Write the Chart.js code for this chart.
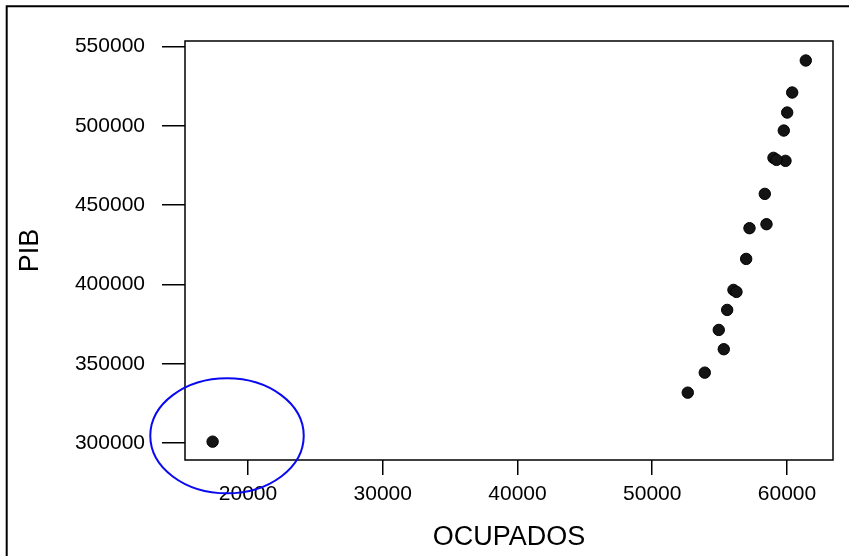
<!DOCTYPE html>
<html>
<head>
<meta charset="utf-8">
<script src="https://cdn.jsdelivr.net/npm/chart.js@4/dist/chart.umd.min.js"></script>
<style>
  html, body { margin: 0; padding: 0; background: #fff; }
  #wrap { position: relative; width: 849px; height: 556px; }
</style>
</head>
<body>
<div id="wrap"><canvas id="c" width="849" height="556"></canvas></div>
<script>
// ---- data ----
const ocupados = [17372, 52636, 53898, 55309, 54937, 55561, 56028, 56250, 56972, 57217,
                  58479, 58353, 59889, 58998, 59221, 59763, 60015, 60387, 61396];
const pib      = [300952, 331847, 344457, 359211, 371379, 383990, 396600, 395340, 416145, 435502,
                  438023, 457129, 477933, 479825, 478564, 497038, 508387, 520997, 541173];
const xTicks = [20000, 30000, 40000, 50000, 60000];
const yTicks = [300000, 350000, 400000, 450000, 500000, 550000];
const xRange = [15323, 63415];
const yRange = [289400, 553470];
const xTitle = 'OCUPADOS';
const yTitle = 'PIB';
// outlier highlight ellipse (data units)
const ellipseCenter = [18441, 304670];
const ellipseRadius = [5694, 36254];

const FONT = "'Liberation Sans', Arial, sans-serif";

const framePlugin = {
  id: 'frame',
  beforeDraw(chart) {
    const ctx = chart.ctx;
    ctx.save();
    ctx.strokeStyle = '#000';
    ctx.lineWidth = 2;
    ctx.beginPath();
    ctx.moveTo(6.7, 556);
    ctx.lineTo(6.7, 6.2);
    ctx.lineTo(849, 6.2);
    ctx.stroke();
    ctx.restore();
  },
  afterDraw(chart) {
    const a = chart.chartArea, ctx = chart.ctx;
    ctx.save();
    ctx.strokeStyle = '#000';
    ctx.lineWidth = 1.5;
    ctx.strokeRect(a.left, a.top, a.right - a.left, a.bottom - a.top);
    // ellipse
    const xs = chart.scales.x, ys = chart.scales.y;
    const cx = xs.getPixelForValue(ellipseCenter[0]);
    const cy = ys.getPixelForValue(ellipseCenter[1]);
    const rx = Math.abs(xs.getPixelForValue(ellipseCenter[0] + ellipseRadius[0]) - cx);
    const ry = Math.abs(ys.getPixelForValue(ellipseCenter[1] + ellipseRadius[1]) - cy);
    ctx.strokeStyle = '#0a0af0';
    ctx.lineWidth = 2;
    ctx.beginPath();
    ctx.ellipse(cx, cy, rx, ry, 0, 0, Math.PI * 2);
    ctx.stroke();
    ctx.restore();
  }
};

new Chart(document.getElementById('c'), {
  type: 'scatter',
  data: {
    datasets: [{
      data: ocupados.map((x, i) => ({ x: x, y: pib[i] })),
      backgroundColor: '#141414',
      borderColor: '#000',
      borderWidth: 1,
      pointRadius: 5.7,
      pointHoverRadius: 5.7,
      pointStyle: 'circle'
    }]
  },
  options: {
    responsive: false,
    animation: false,
    devicePixelRatio: 1,
    layout: { padding: { left: 0, top: 41, right: 16, bottom: 0 } },
    plugins: { legend: { display: false }, tooltip: { enabled: false } },
    scales: {
      x: {
        type: 'linear',
        min: xRange[0], max: xRange[1],
        afterBuildTicks: s => { s.ticks = xTicks.map(v => ({ value: v })); },
        afterFit: s => { s.height = 96; },
        grid: { drawOnChartArea: false, drawTicks: true, tickLength: 15, color: '#000', lineWidth: 1.5 },
        border: { display: false },
        ticks: { color: '#000', font: { family: FONT, size: 21 }, padding: 7, maxRotation: 0,
                 callback: v => String(v) },
        title: { display: true, text: xTitle, color: '#000', font: { family: FONT, size: 27 },
                 padding: { top: 0, bottom: 2 } }
      },
      y: {
        type: 'linear',
        min: yRange[0], max: yRange[1],
        afterBuildTicks: s => { s.ticks = yTicks.map(v => ({ value: v })); },
        afterFit: s => { s.width = 185; },
        grid: { drawOnChartArea: false, drawTicks: true, tickLength: 23, color: '#000', lineWidth: 1.5 },
        border: { display: false },
        ticks: { color: '#000', font: { family: FONT, size: 21 }, padding: 17,
                 callback: v => String(v) },
        title: { display: true, text: yTitle, color: '#000', font: { family: FONT, size: 27 },
                 padding: { top: 14, bottom: 0 } }
      }
    }
  },
  plugins: [framePlugin]
});
</script>
</body>
</html>
